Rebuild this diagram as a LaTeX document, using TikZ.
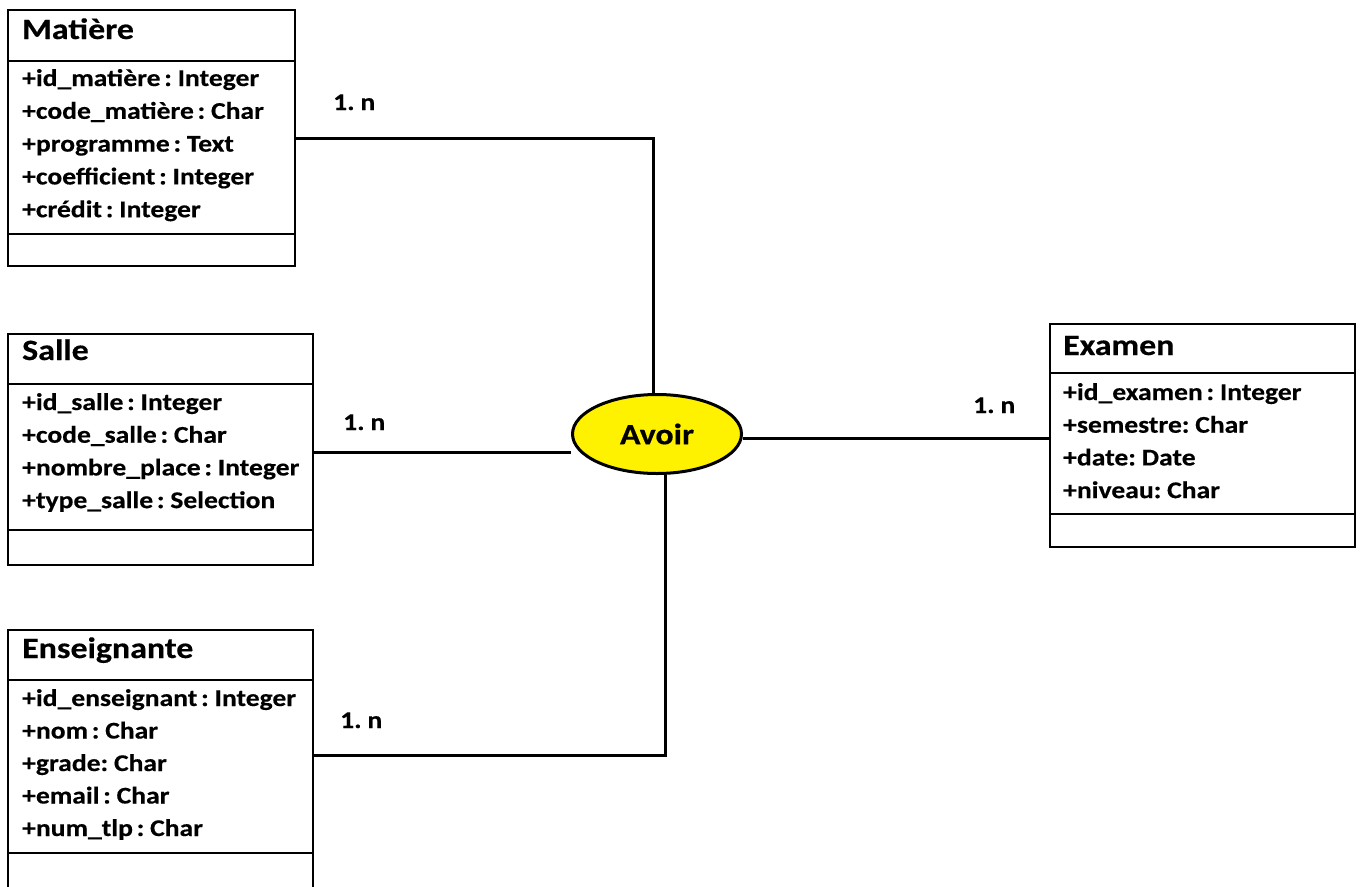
\documentclass[tikz,border=0pt]{standalone}
\usepackage{fontspec}
\setmainfont{Carlito}[FakeStretch=1.15, WordSpace=0.6, BoldFeatures={FakeBold=0.4}]
\usetikzlibrary{shapes.geometric,backgrounds}

\tikzset{
  classbox/.style={draw, line width=2pt, inner sep=0pt, outer sep=0pt, anchor=north west},
  divider/.style={line width=2pt},
  conn/.style={line width=3pt},
  title/.style={anchor=base west, inner sep=0pt, font=\fontsize{29.5}{34}\selectfont\bfseries},
  attr/.style={anchor=base west, inner sep=0pt, font=\fontsize{24}{28}\selectfont\bfseries},
  card/.style={anchor=base west, inner sep=0pt, font=\fontsize{24}{28}\selectfont\bfseries},
  assoc/.style={ellipse, draw, line width=3pt, fill=yellow, inner sep=0pt,
    minimum width=169pt, minimum height=79pt, font=\fontsize{29.5}{34}\selectfont\bfseries}
}

\begin{document}
\begin{tikzpicture}[x=1pt,y=-1pt]
\useasboundingbox (0,0) rectangle (1365,886);

% --- class boxes ---
\node[classbox, minimum width=287pt, minimum height=256pt] (mat) at (8,10) {};
\node[classbox, minimum width=305pt, minimum height=231pt] (sal) at (8,334) {};
\node[classbox, minimum width=305pt, minimum height=260pt] (ens) at (8,630) {};
\node[classbox, minimum width=305pt, minimum height=223pt] (ex) at (1050,324) {};

% compartment separators
\draw[divider] (mat.west |- 0,61) -- (mat.east |- 0,61);
\draw[divider] (mat.west |- 0,234) -- (mat.east |- 0,234);
\draw[divider] (sal.west |- 0,384) -- (sal.east |- 0,384);
\draw[divider] (sal.west |- 0,530) -- (sal.east |- 0,530);
\draw[divider] (ens.west |- 0,680) -- (ens.east |- 0,680);
\draw[divider] (ens.west |- 0,853) -- (ens.east |- 0,853);
\draw[divider] (ex.west |- 0,373) -- (ex.east |- 0,373);
\draw[divider] (ex.west |- 0,514) -- (ex.east |- 0,514);

% --- class names ---
\node[title] (matT) at (22,39) {Matière};
\node[title] (salT) at (22,360) {Salle};
\node[title] (ensT) at (22,658) {Enseignante};
\node[title] (exT) at (1063,355) {Examen};

% --- attributes ---
\foreach \t [count=\i] in {+id\_matière : Integer, +code\_matière : Char,
    +programme : Text, +coefficient : Integer, +crédit : Integer}
  \node[attr] (matA\i) at (22,{86+32.8*(\i-1)}) {\t};
\foreach \t [count=\i] in {+id\_salle : Integer, +code\_salle : Char,
    +nombre\_place : Integer, +type\_salle : Selection}
  \node[attr] (salA\i) at (22,{410+32.7*(\i-1)}) {\t};
\foreach \t [count=\i] in {+id\_enseignant : Integer, +nom : Char,
    +grade: Char, +email : Char, +num\_tlp : Char}
  \node[attr] (ensA\i) at (22,{706+32.5*(\i-1)}) {\t};
\foreach \t [count=\i] in {+id\_examen : Integer, +semestre: Char,
    +date: Date, +niveau: Char}
  \node[attr] (exA\i) at (1063,{400+32.7*(\i-1)}) {\t};

% --- association ---
\node[assoc] (av) at (657,434) {Avoir};

\begin{scope}[on background layer]
  \draw[conn] (mat.east) -| ([xshift=-4pt]av.north);
  \draw[conn] ([yshift=-2.5pt]sal.east) -- ([yshift=-2.5pt]sal.east -| av.west);
  \draw[conn] ([yshift=5pt]ens.east) -| ([xshift=8pt]av.south);
  \draw[conn] ([yshift=-2.5pt]ex.west) -- ([yshift=-2.5pt]ex.west -| av.east);
\end{scope}

% --- multiplicities ---
\node[card] (c1) at (333,110) {1. n};
\node[card] (c2) at (343,430) {1. n};
\node[card] (c3) at (340,728) {1. n};
\node[card] (c4) at (973,413) {1. n};
\end{tikzpicture}
\end{document}
